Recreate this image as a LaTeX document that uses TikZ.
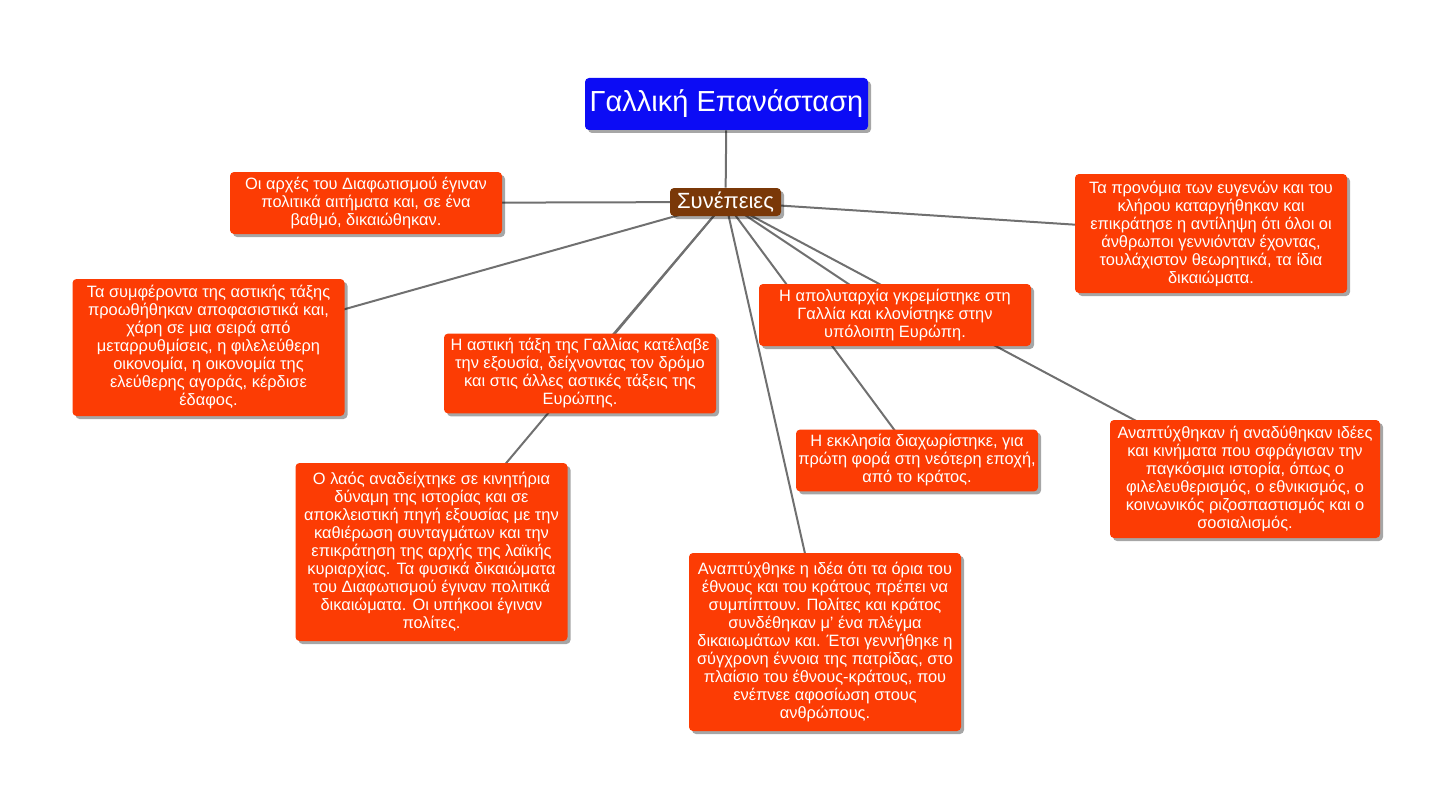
\documentclass[tikz,border=0pt]{standalone}
\usepackage{fontspec}
\setmainfont{Liberation Sans}
\usepackage{tikz}
\usetikzlibrary{backgrounds,shadows}

\definecolor{boxred}{RGB}{252,60,4}
\definecolor{titleblue}{RGB}{12,12,245}
\definecolor{synbrown}{RGB}{122,56,8}
\definecolor{linkgray}{RGB}{112,112,112}

\begin{document}
\begin{tikzpicture}[
  x=0.5pt,y=-0.5pt,
  line cap=round,line join=round,
  link/.style={draw=linkgray,line width=1pt},
  card/.style={fill=boxred,text=white,rounded corners=2pt,align=center,
    inner xsep=1pt,inner ysep=2.5pt,minimum width=136pt,
    font=\fontsize{8.2}{9}\selectfont,
    drop shadow={shadow xshift=1.5pt,shadow yshift=-1.5pt,fill=black,opacity=.35}},
  head/.style={card,fill=titleblue,minimum width=141.5pt,minimum height=26pt,
    font=\fontsize{14.5}{16}\selectfont},
  sub/.style={card,fill=synbrown,minimum width=55.5pt,minimum height=14pt,
    inner ysep=1pt,font=\fontsize{11}{12}\selectfont}
]
  \useasboundingbox (0,0) rectangle (1451,792);

  % Title and centre
  \node[head] (title) at (726.5,104) {Γαλλική Επανάσταση};
  \node[sub] (syn) at (725.5,202) {Συνέπειες};

  % Consequences
  \node[card,minimum height=31pt] (arxes) at (366,203)
    {Οι αρχές του Διαφωτισμού έγιναν\\πολιτικά αιτήματα και, σε ένα\\βαθμό, δικαιώθηκαν.};
  \node[card,minimum height=59.5pt] (pronomia) at (1211,233.5)
    {Τα προνόμια των ευγενών και του\\κλήρου καταργήθηκαν και\\επικράτησε η αντίληψη ότι όλοι οι\\άνθρωποι γεννιόνταν έχοντας,\\τουλάχιστον θεωρητικά, τα ίδια\\δικαιώματα.};
  \node[card,minimum height=68.5pt] (symferonta) at (208.5,347.5)
    {Τα συμφέροντα της αστικής τάξης\\προωθήθηκαν αποφασιστικά και,\\χάρη σε μια σειρά από\\μεταρρυθμίσεις, η φιλελεύθερη\\οικονομία, η οικονομία της\\ελεύθερης αγοράς, κέρδισε\\έδαφος.};
  \node[card,minimum height=39.5pt] (astiki) at (580,373.5)
    {Η αστική τάξη της Γαλλίας κατέλαβε\\την εξουσία, δείχνοντας τον δρόμο\\και στις άλλες αστικές τάξεις της\\Ευρώπης.};
  \node[card,minimum height=31pt] (apolyt) at (895,315)
    {Η απολυταρχία γκρεμίστηκε στη\\Γαλλία και κλονίστηκε στην\\υπόλοιπη Ευρώπη.};
  \node[card,minimum height=89pt] (laos) at (431.5,552)
    {Ο λαός αναδείχτηκε σε κινητήρια\\δύναμη της ιστορίας και σε\\αποκλειστική πηγή εξουσίας με την\\καθιέρωση συνταγμάτων και την\\επικράτηση της αρχής της λαϊκής\\κυριαρχίας. Τα φυσικά δικαιώματα\\του Διαφωτισμού έγιναν πολιτικά\\δικαιώματα. Οι υπήκοοι έγιναν\\πολίτες.};
  \node[card,minimum width=121pt,minimum height=30.5pt] (ekklisia) at (917,460.5)
    {Η εκκλησία διαχωρίστηκε, για\\πρώτη φορά στη νεότερη εποχή,\\από το κράτος.};
  \node[card,minimum width=135pt,minimum height=59pt] (ideas) at (1245,479)
    {Αναπτύχθηκαν ή αναδύθηκαν ιδέες\\και κινήματα που σφράγισαν την\\παγκόσμια ιστορία, όπως ο\\φιλελευθερισμός, ο εθνικισμός, ο\\κοινωνικός ριζοσπαστισμός και ο\\σοσιαλισμός.};
  \node[card,minimum height=89pt] (ethnos) at (825,642)
    {Αναπτύχθηκε η ιδέα ότι τα όρια του\\έθνους και του κράτους πρέπει να\\συμπίπτουν. Πολίτες και κράτος\\συνδέθηκαν μ’ ένα πλέγμα\\δικαιωμάτων και. Έτσι γεννήθηκε η\\σύγχρονη έννοια της πατρίδας, στο\\πλαίσιο του έθνους-κράτους, που\\ενέπνεε αφοσίωση στους\\ανθρώπους.};

  % Links, behind the boxes
  \begin{scope}[on background layer]
    \draw[link] (title) -- (syn);
    \foreach \n in {arxes,pronomia,symferonta,astiki,laos,ethnos,ekklisia,apolyt,ideas}{
      \draw[link] (syn.center) -- (\n.center);
    }
  \end{scope}
\end{tikzpicture}
\end{document}
